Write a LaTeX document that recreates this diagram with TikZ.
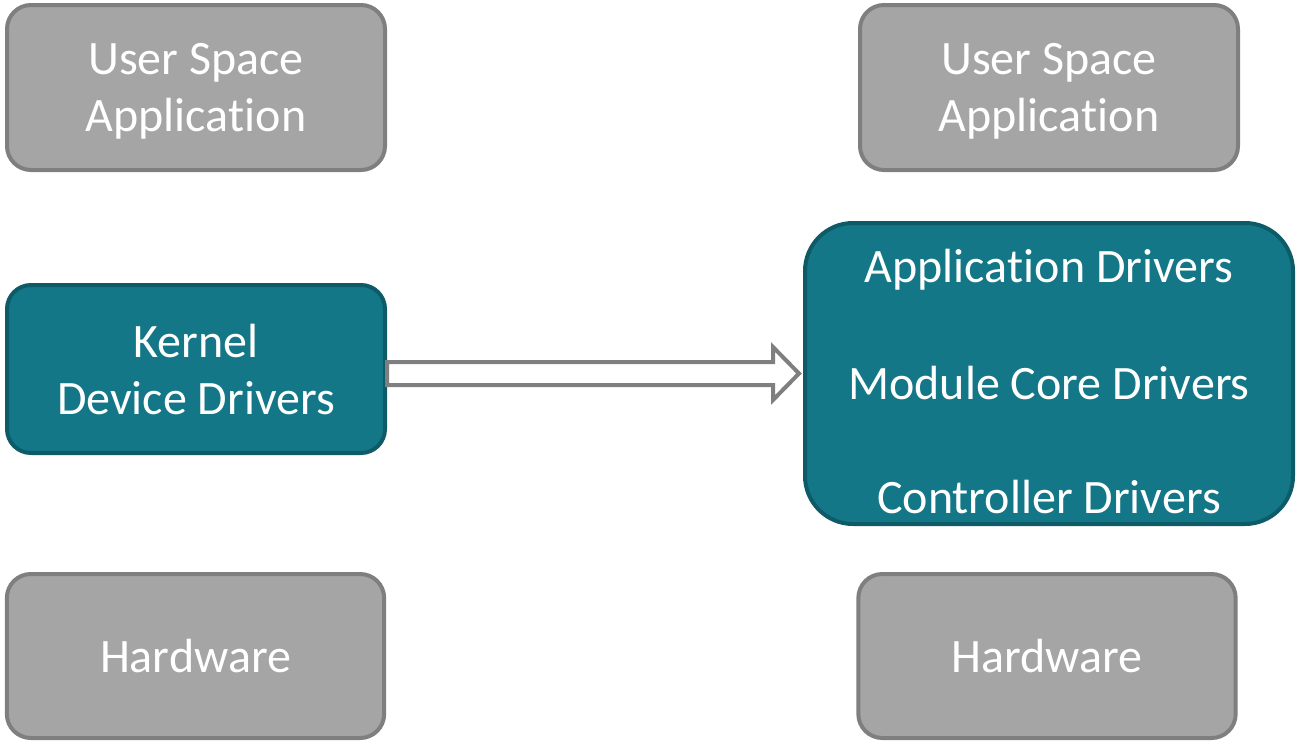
\documentclass[tikz,border=0pt]{standalone}
\usepackage{fontspec}
\setmainfont{Carlito}[Ligatures=NoCommon]
\usetikzlibrary{calc}

\definecolor{boxgray}{HTML}{A5A5A5}
\definecolor{edgegray}{HTML}{7F7F7F}
\definecolor{drvteal}{HTML}{137788}
\definecolor{drvedge}{HTML}{0E5B68}

% keeps Carlito from joining "ti"
\newcommand{\appword}{Applica\kern0pt tion}

\tikzset{
  layer/.style={draw=edgegray,fill=boxgray,line width=3pt,rounded corners=18pt,
    text=white,align=center,inner sep=0pt,text depth=0pt,
    font=\fontsize{36}{43}\selectfont},
  drvbox/.style={layer,draw=drvedge,fill=drvteal},
  drvtext/.style={text=white,inner sep=0pt,font=\fontsize{36}{43}\selectfont},
  hollow/.style={draw=edgegray,fill=white,line width=3pt,line join=miter}
}

\begin{document}
\begin{tikzpicture}[x=0.75pt,y=-0.75pt]
  \useasboundingbox (0,0) rectangle (1297,743);

  % old stack
  \node[layer,minimum width=283.5pt,minimum height=123.75pt] (userL) at (196,87.5)
        {User Space\\\appword};
  \node[drvbox,minimum width=283.5pt,minimum height=126pt] (kernel) at (196,369)
        {Kernel\\Device Drivers};
  \node[layer,minimum width=283pt,minimum height=123pt] (hwL) at (195.5,656)
        {Hardware};

  % new stack
  \node[layer,minimum width=283.5pt,minimum height=123.75pt] (userR) at (1049,87.5)
        {User Space\\\appword};
  \node[drvbox,rounded corners=36pt,minimum width=366pt,minimum height=225.75pt]
        (drivers) at (1049,373.5) {};
  \node[drvtext] (appdrv)  at (1049,270) {\appword{} Drivers};
  \node[drvtext] (coredrv) at (1049,383) {Module Core Drivers};
  \node[drvtext] (ctrldrv) at (1049,497) {Controller Drivers};
  \node[layer,minimum width=283pt,minimum height=123pt] (hwR) at (1047,656)
        {Hardware};

  % hollow block arrow kernel -> drivers
  \coordinate (tail) at (kernel.east |- drivers.west);
  \coordinate (tip) at ($(drivers.west)+(-4,0)$);
  \draw[hollow] ($(tail)+(0,-11.5)$) -- ($(tip)+(-26,-11.5)$)
    -- ($(tip)+(-26,-26.5)$) -- (tip) -- ($(tip)+(-26,26.5)$)
    -- ($(tip)+(-26,11.5)$) -- ($(tail)+(0,11.5)$) -- cycle;
\end{tikzpicture}
\end{document}
